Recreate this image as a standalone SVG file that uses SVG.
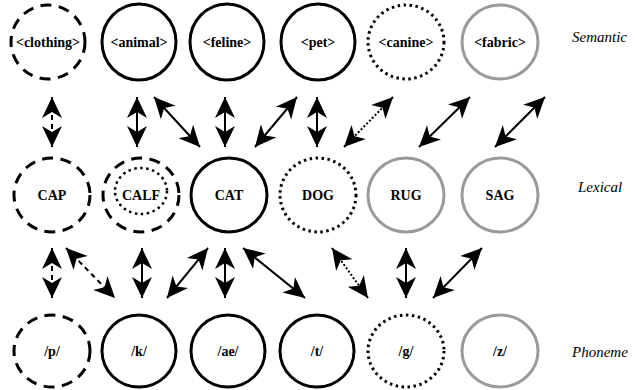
<svg xmlns="http://www.w3.org/2000/svg" width="635" height="390" viewBox="0 0 635 390">
<style>
.n{fill:none;stroke-width:3}
.solid{stroke:#000}
.dash{stroke:#000;stroke-dasharray:11 7.5}
.dot{stroke:#000;stroke-dasharray:2.5 3.5}
.gray{stroke:#9a9a9a}
.t{font-family:'Liberation Serif','Times New Roman','DejaVu Serif',serif;font-weight:bold;font-size:14px;text-anchor:middle;fill:#000}
.lab{font-family:'Liberation Serif','Times New Roman','DejaVu Serif',serif;font-style:italic;font-size:15px;fill:#000}
.c line{stroke:#000;stroke-width:2;marker-start:url(#ah);marker-end:url(#ah)}
.c .ld{stroke-dasharray:5 4}
.c .lt{stroke-dasharray:2 2}
</style>
<defs>
<marker id="ah" viewBox="0 0 22 22" refX="21" refY="11" markerWidth="22" markerHeight="22" markerUnits="userSpaceOnUse" orient="auto-start-reverse">
<path d="M0,1 L21,11 L0,21 L6,11 z" fill="#000"/>
</marker>
</defs>

<g id="clothing"><ellipse class="n dash" cx="48" cy="42" rx="37" ry="37"/><text class="t" x="48" y="47" font-family="Liberation Serif, serif">&lt;clothing&gt;</text></g>
<g id="animal"><ellipse class="n solid" cx="139" cy="42" rx="37" ry="38"/><text class="t" x="139" y="47" font-family="Liberation Serif, serif">&lt;animal&gt;</text></g>
<g id="feline"><ellipse class="n solid" cx="227" cy="42" rx="37" ry="38"/><text class="t" x="227" y="47" font-family="Liberation Serif, serif">&lt;feline&gt;</text></g>
<g id="pet"><ellipse class="n solid" cx="318" cy="42" rx="37" ry="38"/><text class="t" x="318" y="47" font-family="Liberation Serif, serif">&lt;pet&gt;</text></g>
<g id="canine"><ellipse class="n dot" cx="406" cy="42" rx="38" ry="37"/><text class="t" x="406" y="47" font-family="Liberation Serif, serif">&lt;canine&gt;</text></g>
<g id="fabric"><ellipse class="n gray" cx="500" cy="42" rx="38" ry="37"/><text class="t" x="500" y="47" font-family="Liberation Serif, serif">&lt;fabric&gt;</text></g>

<g id="CAP"><ellipse class="n dash" cx="52" cy="195" rx="38" ry="37"/><text class="t" x="52" y="200">CAP</text></g>
<g id="CALF"><ellipse class="n dash" cx="141" cy="195" rx="38" ry="37"/><ellipse class="n dot" style="stroke-width:2.5" cx="141" cy="191" rx="26" ry="23"/><text class="t" x="141" y="200">CALF</text></g>
<g id="CAT"><ellipse class="n solid" cx="229" cy="195" rx="38" ry="37"/><text class="t" x="229" y="200">CAT</text></g>
<g id="DOG"><ellipse class="n dot" cx="318" cy="195" rx="38" ry="37"/><text class="t" x="318" y="200">DOG</text></g>
<g id="RUG"><ellipse class="n gray" cx="406" cy="195" rx="38" ry="37"/><text class="t" x="406" y="200">RUG</text></g>
<g id="SAG"><ellipse class="n gray" cx="500" cy="195" rx="38" ry="37"/><text class="t" x="500" y="200">SAG</text></g>

<g id="p"><ellipse class="n dash" cx="52" cy="351" rx="38" ry="36"/><text class="t" x="52" y="356">/p/</text></g>
<g id="k"><ellipse class="n solid" cx="139" cy="351" rx="37" ry="36"/><text class="t" x="139" y="356">/k/</text></g>
<g id="ae"><ellipse class="n solid" cx="228" cy="351" rx="37" ry="36"/><text class="t" x="228" y="356">/ae/</text></g>
<g id="t"><ellipse class="n solid" cx="317" cy="351" rx="37" ry="36"/><text class="t" x="317" y="356">/t/</text></g>
<g id="g"><ellipse class="n dot" cx="406" cy="351" rx="38" ry="36"/><text class="t" x="406" y="356">/g/</text></g>
<g id="z"><ellipse class="n gray" cx="500" cy="351" rx="38" ry="36"/><text class="t" x="500" y="356">/z/</text></g>

<text class="lab" x="572" y="42">Semantic</text>
<text class="lab" x="578" y="192">Lexical</text>
<text class="lab" x="572" y="357">Phoneme</text>

<g id="connectors" class="c">
<line class="ld" x1="52" y1="97" x2="52" y2="147"/>
<line x1="137" y1="97" x2="137" y2="147"/>
<line x1="154" y1="97" x2="200" y2="147"/>
<line x1="225" y1="97" x2="225" y2="147"/>
<line x1="255" y1="147" x2="297" y2="97"/>
<line x1="317" y1="97" x2="317" y2="147"/>
<line class="lt" x1="344" y1="147" x2="393" y2="97"/>
<line x1="419" y1="147" x2="470" y2="97"/>
<line x1="495" y1="147" x2="545" y2="97"/>

<line class="ld" x1="52" y1="248" x2="52" y2="298"/>
<line class="ld" x1="66" y1="248" x2="115" y2="298"/>
<line x1="142" y1="248" x2="142" y2="298"/>
<line x1="167" y1="298" x2="208" y2="248"/>
<line x1="225" y1="248" x2="225" y2="298"/>
<line x1="243" y1="248" x2="305" y2="298"/>
<line class="lt" x1="332" y1="248" x2="368" y2="298"/>
<line x1="406" y1="248" x2="406" y2="298"/>
<line x1="433" y1="298" x2="482" y2="248"/>
</g>
</svg>
